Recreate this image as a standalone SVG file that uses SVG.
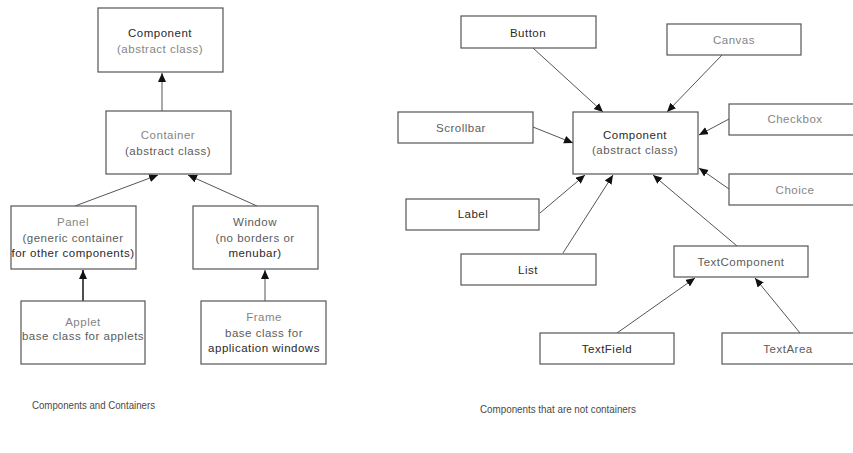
<svg xmlns="http://www.w3.org/2000/svg" width="853" height="453" viewBox="0 0 853 453">
  <style>
    .box { fill: #ffffff; stroke: #555555; stroke-width: 1.2; }
    text { font-family: "Liberation Sans", Arial, sans-serif; font-size: 11.5px; letter-spacing: 0.5px; text-anchor: middle; }
    .d { fill: #2a2a2a; }
    .m { fill: #5c5c5c; }
    .l { fill: #858585; }
    .cap { font-size: 11px; letter-spacing: 0; text-anchor: start; fill: #4a4a4a; }
    .edge { stroke: #555555; stroke-width: 1; fill: none; marker-end: url(#head); }
    .edge.bold { stroke: #222222; stroke-width: 1.6; }
  </style>
  <defs>
    <marker id="head" markerUnits="userSpaceOnUse" markerWidth="10" markerHeight="9" refX="9" refY="4" orient="auto">
      <path d="M0,0 L9,4 L0,8 Z" fill="#111111"/>
    </marker>
  </defs>
  <rect width="853" height="453" fill="#ffffff"/>

  <!-- connectors -->
  <g id="connectors">
    <!-- containers hierarchy -->
    <line class="edge" x1="162" y1="111" x2="162" y2="73"/>
    <line class="edge" x1="75" y1="206" x2="158" y2="175"/>
    <line class="edge" x1="257" y1="206" x2="188" y2="175"/>
    <line class="edge bold" x1="83" y1="301" x2="83" y2="270"/>
    <line class="edge" x1="265" y1="301" x2="265" y2="270"/>
    <!-- non-container components -->
    <line class="edge" x1="533" y1="48" x2="603" y2="112"/>
    <line class="edge" x1="722" y1="55" x2="667" y2="112"/>
    <line class="edge" x1="533" y1="127" x2="573" y2="143"/>
    <line class="edge" x1="729" y1="119" x2="699" y2="135"/>
    <line class="edge" x1="729" y1="189" x2="699" y2="168"/>
    <line class="edge" x1="540" y1="213" x2="585" y2="175"/>
    <line class="edge" x1="563" y1="253" x2="613" y2="175"/>
    <line class="edge" x1="737" y1="246" x2="653" y2="175"/>
    <line class="edge" x1="617" y1="333" x2="695" y2="278"/>
    <line class="edge" x1="800" y1="333" x2="755" y2="278"/>
  </g>

  <!-- Components and Containers -->
  <g id="component-left">
    <rect class="box" x="98" y="8" width="125" height="64"/>
    <text class="d" x="160" y="37">Component</text>
    <text class="l" x="160" y="53">(abstract class)</text>
  </g>
  <g id="container">
    <rect class="box" x="106" y="111" width="125" height="63"/>
    <text class="l" x="168" y="139">Container</text>
    <text class="m" x="168" y="155">(abstract class)</text>
  </g>
  <g id="panel">
    <rect class="box" x="11" y="206" width="125" height="63"/>
    <text class="l" x="73" y="226">Panel</text>
    <text class="m" x="73" y="242">(generic container</text>
    <text class="d" x="73" y="257">for other components)</text>
  </g>
  <g id="window">
    <rect class="box" x="193" y="206" width="125" height="63"/>
    <text class="m" x="255" y="226">Window</text>
    <text class="m" x="255" y="242">(no borders or</text>
    <text class="d" x="255" y="257">menubar)</text>
  </g>
  <g id="applet">
    <rect class="box" x="21" y="301" width="124" height="63"/>
    <text class="l" x="83" y="326">Applet</text>
    <text class="m" x="83" y="340">base class for applets</text>
  </g>
  <g id="frame">
    <rect class="box" x="201" y="301" width="125" height="63"/>
    <text class="l" x="264" y="321">Frame</text>
    <text class="m" x="264" y="337">base class for</text>
    <text class="d" x="264" y="352">application windows</text>
  </g>

  <!-- Components that are not containers -->
  <g id="button">
    <rect class="box" x="461" y="16" width="135" height="32"/>
    <text class="d" x="528" y="37">Button</text>
  </g>
  <g id="canvas">
    <rect class="box" x="667" y="24" width="134" height="31"/>
    <text class="l" x="734" y="44">Canvas</text>
  </g>
  <g id="scrollbar">
    <rect class="box" x="398" y="112" width="135" height="31"/>
    <text class="m" x="461" y="132">Scrollbar</text>
  </g>
  <g id="component-right">
    <rect class="box" x="573" y="112" width="125" height="62"/>
    <text class="d" x="635" y="139">Component</text>
    <text class="m" x="635" y="154">(abstract class)</text>
  </g>
  <g id="checkbox">
    <rect class="box" x="729" y="104" width="130" height="31"/>
    <text class="l" x="795" y="123">Checkbox</text>
  </g>
  <g id="choice">
    <rect class="box" x="729" y="174" width="130" height="31"/>
    <text class="l" x="795" y="194">Choice</text>
  </g>
  <g id="label">
    <rect class="box" x="406" y="199" width="133" height="31"/>
    <text class="d" x="473" y="218">Label</text>
  </g>
  <g id="list">
    <rect class="box" x="461" y="254" width="135" height="31"/>
    <text class="d" x="528" y="274">List</text>
  </g>
  <g id="textcomponent">
    <rect class="box" x="674" y="246" width="134" height="31"/>
    <text class="m" x="741" y="266">TextComponent</text>
  </g>
  <g id="textfield">
    <rect class="box" x="540" y="333" width="134" height="31"/>
    <text class="d" x="607" y="353">TextField</text>
  </g>
  <g id="textarea">
    <rect class="box" x="722" y="333" width="137" height="31"/>
    <text class="m" x="788" y="353">TextArea</text>
  </g>

  <!-- captions -->
  <text class="cap" x="32" y="409" textLength="123" lengthAdjust="spacingAndGlyphs">Components and Containers</text>
  <text class="cap" x="480" y="413" textLength="156" lengthAdjust="spacingAndGlyphs">Components that are not containers</text>
</svg>
